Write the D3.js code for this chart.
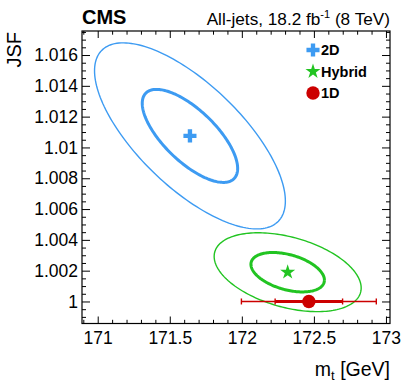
<!DOCTYPE html>
<html>
<head>
<meta charset="utf-8">
<script src="https://cdn.jsdelivr.net/npm/d3@7"></script>
<style>
  body { margin: 0; background: #fff; }
  #chart { width: 407px; height: 387px; }
  text { font-family: "Liberation Sans", Arial, Helvetica, sans-serif; fill: #000; }
  .axis path { display: none; }
  .axis line { stroke: #000; stroke-width: 1; }
  .axis text { font-size: 17.5px; }
</style>
</head>
<body>
<div id="chart"></div>
<script>
// fit results
const fitNames = ["2D", "Hybrid"];
const fitMt = [171.64, 172.318];
const fitJsf = [1.01075, 1.0019];
const fitSigmaMt = [0.331, 0.255];
const fitSigmaJsf = [0.00302, 0.00128];
const fitRho = [-0.70, -0.40];
const fitColors = ["#3d9bf2", "#22c422"];
const contourLevels = [1, 2];

// 1D fit
const oneDMt = 172.465;
const oneDJsf = 1.0;
const oneDStat = 0.234;
const oneDTotal = 0.468;

// ticks
const xTicks = [171, 171.5, 172, 172.5, 173];
const yTicks = [1, 1.002, 1.004, 1.006, 1.008, 1.01, 1.012, 1.014, 1.016];

const legendNames = ["2D", "Hybrid", "1D"];

//define dim
const width = 407, height = 387;
const margin = {top: 31, left: 82, right: 17, bottom: 63.5};
const svg = d3.select("#chart").append("svg")
    .attr("width", width)
    .attr("height", height);

//scales
const xScale = d3.scaleLinear()
    .domain([170.891, 173.028])
    .range([margin.left, width - margin.right]);
const yScale = d3.scaleLinear()
    .domain([0.99857, 1.01756])
    .range([height - margin.bottom, margin.top]);

const fmt = d3.format("~g");
const xMinor = d3.range(170.9, 173.01, 0.1).filter(v => Math.abs(v * 2 - Math.round(v * 2)) > 1e-6);
const yMinor = d3.range(0.9990, 1.0175, 0.0005).filter(v => Math.abs(v * 500 - Math.round(v * 500)) > 1e-6);

//axes (ticks inward on all four sides)
const bottom = height - margin.bottom, right = width - margin.right;
svg.append("g").attr("class", "axis")
    .attr("transform", `translate(0,${bottom})`)
    .call(d3.axisBottom(xScale).tickValues(xTicks).tickSize(-7).tickPadding(8.5).tickFormat(fmt));
svg.append("g").attr("class", "axis")
    .attr("transform", `translate(0,${bottom})`)
    .call(d3.axisBottom(xScale).tickValues(xMinor).tickSize(-3.7).tickFormat(""));
svg.append("g").attr("class", "axis")
    .attr("transform", `translate(0,${margin.top})`)
    .call(d3.axisTop(xScale).tickValues(xTicks).tickSize(-7).tickFormat(""));
svg.append("g").attr("class", "axis")
    .attr("transform", `translate(0,${margin.top})`)
    .call(d3.axisTop(xScale).tickValues(xMinor).tickSize(-3.7).tickFormat(""));

svg.append("g").attr("class", "axis")
    .attr("transform", `translate(${margin.left},0)`)
    .call(d3.axisLeft(yScale).tickValues(yTicks).tickSize(-8).tickPadding(4).tickFormat(fmt));
svg.append("g").attr("class", "axis")
    .attr("transform", `translate(${margin.left},0)`)
    .call(d3.axisLeft(yScale).tickValues(yMinor).tickSize(-4).tickFormat(""));
svg.append("g").attr("class", "axis")
    .attr("transform", `translate(${right},0)`)
    .call(d3.axisRight(yScale).tickValues(yTicks).tickSize(-8).tickFormat(""));
svg.append("g").attr("class", "axis")
    .attr("transform", `translate(${right},0)`)
    .call(d3.axisRight(yScale).tickValues(yMinor).tickSize(-4).tickFormat(""));

//frame
svg.append("rect")
    .attr("x", margin.left)
    .attr("y", margin.top)
    .attr("width", right - margin.left)
    .attr("height", bottom - margin.top)
    .attr("fill", "none")
    .attr("stroke", "#000")
    .attr("stroke-width", 1.2);

//contours
const line = d3.line().x(d => xScale(d[0])).y(d => yScale(d[1]));
const angles = d3.range(0, 2 * Math.PI + 0.001, Math.PI / 90);
fitNames.forEach(function(name, i) {
    contourLevels.forEach(function(k) {
        const pts = angles.map(t => [
            fitMt[i] + k * fitSigmaMt[i] * Math.cos(t),
            fitJsf[i] + k * fitSigmaJsf[i] * (fitRho[i] * Math.cos(t) + Math.sqrt(1 - fitRho[i] * fitRho[i]) * Math.sin(t))
        ]);
        svg.append("path")
            .attr("d", line(pts))
            .attr("fill", "none")
            .attr("stroke", fitColors[i])
            .attr("stroke-width", k === 1 ? 3 : 1.4);
    });
});

//1D error bars
const red = "#cc0000";
[[oneDTotal, 1.4], [oneDStat, 3]].forEach(function(e) {
    svg.append("line")
        .attr("x1", xScale(oneDMt - e[0])).attr("x2", xScale(oneDMt + e[0]))
        .attr("y1", yScale(oneDJsf)).attr("y2", yScale(oneDJsf))
        .attr("stroke", red).attr("stroke-width", e[1]);
    [-1, 1].forEach(function(s) {
        svg.append("line")
            .attr("x1", xScale(oneDMt + s * e[0])).attr("x2", xScale(oneDMt + s * e[0]))
            .attr("y1", yScale(oneDJsf) - 3).attr("y2", yScale(oneDJsf) + 3)
            .attr("stroke", red).attr("stroke-width", 1.4);
    });
});

//markers
const symbols = [d3.symbol().type(d3.symbolCross).size(95), d3.symbol().type(d3.symbolStar).size(70), d3.symbol().type(d3.symbolCircle).size(140)];
const markerColors = [fitColors[0], fitColors[1], red];
const markerX = [fitMt[0], fitMt[1], oneDMt];
const markerY = [fitJsf[0], fitJsf[1], oneDJsf];
markerX.forEach(function(mx, i) {
    svg.append("path")
        .attr("d", symbols[i]())
        .attr("transform", `translate(${xScale(mx)},${yScale(markerY[i])})`)
        .attr("fill", markerColors[i]);
});

//legend
legendNames.forEach(function(name, i) {
    const ly = 50 + i * 21.5;
    svg.append("path")
        .attr("d", symbols[i]())
        .attr("transform", `translate(313,${ly})`)
        .attr("fill", markerColors[i]);
    svg.append("text")
        .attr("x", 321)
        .attr("y", ly + 5)
        .attr("font-size", "14.5px")
        .attr("font-weight", "bold")
        .text(name);
});

//titles
svg.append("text")
    .attr("x", margin.left)
    .attr("y", 24)
    .attr("font-size", "20px")
    .attr("font-weight", "bold")
    .text("CMS");
const lumi = svg.append("text")
    .attr("x", right)
    .attr("y", 25)
    .attr("text-anchor", "end")
    .attr("font-size", "17.2px");
lumi.append("tspan").text("All-jets, 18.2 fb");
lumi.append("tspan").attr("font-size", "11px").attr("dy", -7).text("-1");
lumi.append("tspan").attr("dy", 7).text(" (8 TeV)");

//axis labels
const xLabel = svg.append("text")
    .attr("x", right)
    .attr("y", 376)
    .attr("text-anchor", "end")
    .attr("font-size", "19.5px");
xLabel.append("tspan").text("m");
xLabel.append("tspan").attr("font-size", "13px").attr("dy", 4).text("t");
xLabel.append("tspan").attr("dy", -4).text(" [GeV]");

svg.append("text")
    .attr("transform", "rotate(-90)")
    .attr("x", -margin.top - 1)
    .attr("y", 21)
    .attr("text-anchor", "end")
    .attr("font-size", "20px")
    .text("JSF");
</script>
</body>
</html>
